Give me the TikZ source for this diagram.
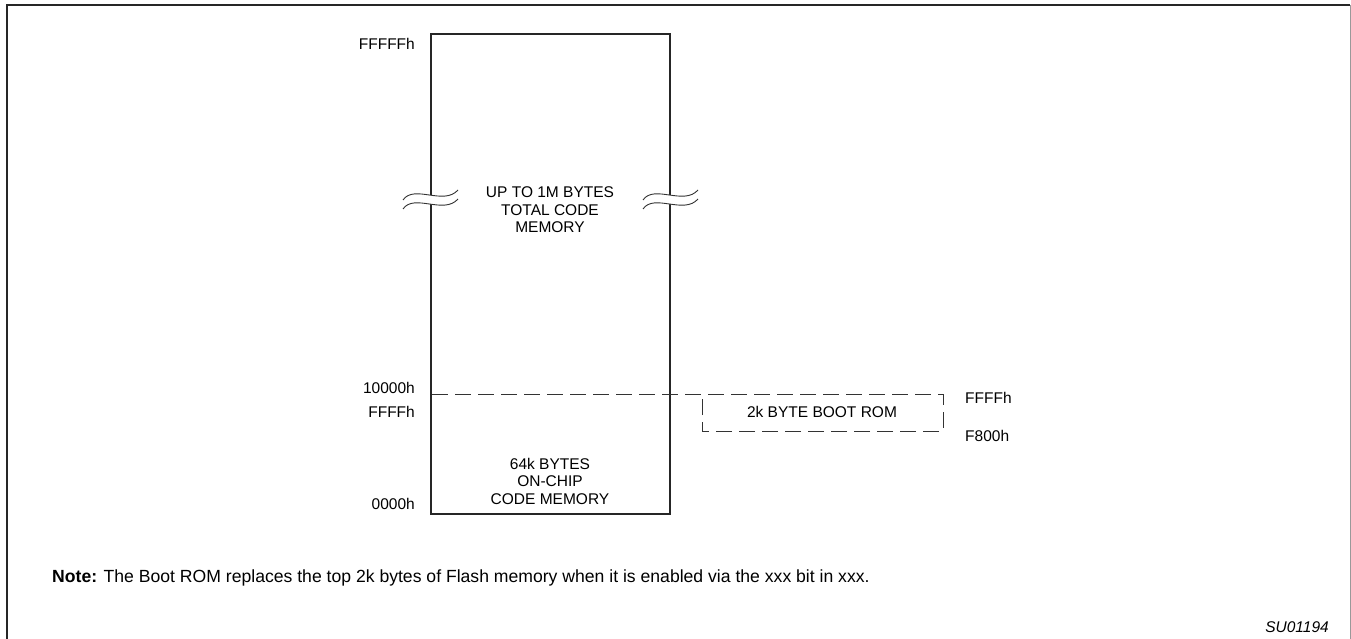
\documentclass[tikz,border=0pt]{standalone}
\usepackage{fontspec}
\setmainfont{Liberation Sans}
\begin{document}
\begin{tikzpicture}[x=1pt,y=-1pt,
  lbl/.style={inner sep=0pt,font=\fontsize{15.5}{17.5}\selectfont},
  ctr/.style={lbl,align=center},
  boxline/.style={line width=2pt,draw=black!85},
  dashline/.style={line width=1pt,draw=black!80,dash pattern=on 16pt off 7pt},
  wave/.style={line width=0.9pt,draw=black!80}]
\useasboundingbox (0,0) rectangle (1351,639);
% frame
\draw[line width=2pt,draw=black!85] (7,640) -- (7,5) -- (1350,5);
\draw[line width=1pt,draw=black!40] (1350,5) -- (1350,640);
% memory box
\coordinate (tl) at (431,34);
\coordinate (br) at (670,514);
\draw[boxline] (tl) rectangle (br);
% break waves
\foreach \cx in {430,670}{
  \begin{scope}[shift={(\cx,0)}]
  \fill[white] (-27,200) .. controls (-16,184) and (14,206) .. (28,190) -- (28,199) .. controls (14,215) and (-16,193) .. (-27,209) -- cycle;
  \draw[wave] (-27,200) .. controls (-16,184) and (14,206) .. (28,190);
  \draw[wave] (-27,209) .. controls (-16,193) and (14,215) .. (28,199);
  \end{scope}
}
% dashed boot rom
\coordinate (d0) at (432,394);
\coordinate (d1) at (943,394);
\coordinate (d2) at (943,431);
\coordinate (d3) at (702,431);
\coordinate (d4) at (702,394);
\draw[dashline] (d0) -- (d1) -- (d2) -- (d3) -- (d4);
% texts
\node[ctr] (t1) at (550,210) {UP TO 1M BYTES\\TOTAL CODE\\MEMORY};
\node[ctr] (t2) at (550,481) {64k BYTES\\ON-CHIP\\CODE MEMORY};
\node[ctr] (t3) at (822,412) {2k BYTE BOOT ROM};
\node[lbl,anchor=east] (a1) at (415,44) {FFFFFh};
\node[lbl,anchor=east] (a2) at (415,388) {10000h};
\node[lbl,anchor=east] (a3) at (415,412) {FFFFh};
\node[lbl,anchor=east] (a4) at (415,504) {0000h};
\node[lbl,anchor=west] (a5) at (965,398) {FFFFh};
\node[lbl,anchor=west] (a6) at (965,436) {F800h};
\node[lbl,anchor=base west,font=\fontsize{17.6}{20}\selectfont] (note) at (52,582) {\textbf{Note:} The Boot ROM replaces the top 2k bytes of Flash memory when it is enabled via the xxx bit in xxx.};
\node[lbl,anchor=base east] (su) at (1329,632) {\itshape SU01194};
\end{tikzpicture}
\end{document}
